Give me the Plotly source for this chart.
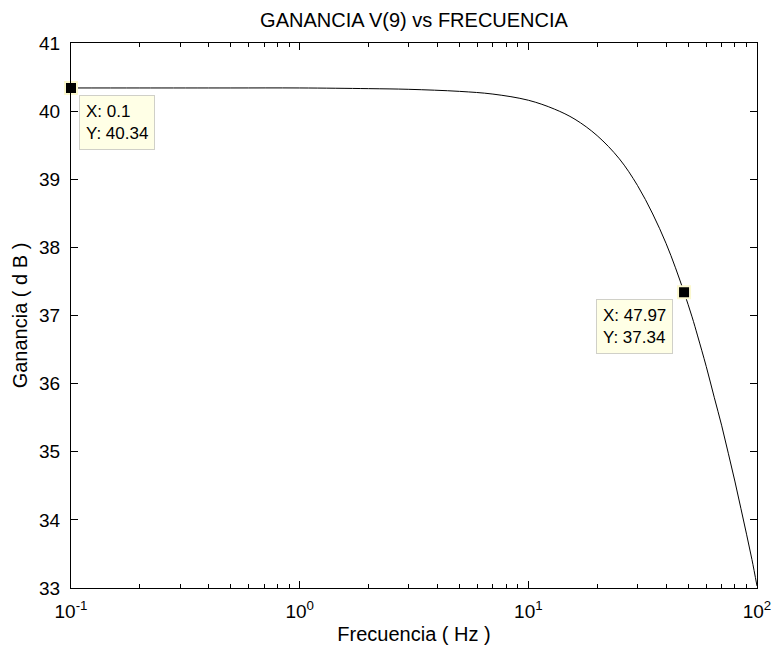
import plotly.graph_objects as go
import math

freq = [0.1, 0.2, 0.5, 1, 2, 3, 5, 7, 10, 13, 16, 20, 25, 30, 35, 40, 44, 47.97,
        52, 55, 60, 65, 70, 75, 80, 85, 90, 95, 100]
gain = [40.34, 40.34, 40.34, 40.34, 40.33, 40.32, 40.29, 40.25, 40.16, 40.03, 39.88,
        39.64, 39.30, 38.91, 38.49, 38.06, 37.70, 37.34, 36.98, 36.70, 36.25, 35.80,
        35.39, 34.97, 34.57, 34.17, 33.79, 33.42, 33.03]

tip_x = [0.1, 47.97]
tip_y = [40.34, 37.34]

xtick_vals = [0.1, 1, 10, 100]
xtick_text = ["10<sup>-1</sup>", "10<sup>0</sup>", "10<sup>1</sup>", "10<sup>2</sup>"]
xminor_vals = [m * d for d in (0.1, 1, 10) for m in range(2, 10)]
ytick_vals = [33, 34, 35, 36, 37, 38, 39, 40, 41]

font = "Liberation Sans, Arial, Helvetica, sans-serif"

fig = go.Figure()
fig.add_trace(go.Scatter(x=freq, y=gain, mode="lines", line=dict(color="black", width=1, shape="spline"),
                         showlegend=False, hoverinfo="skip"))
fig.add_trace(go.Scatter(x=tip_x, y=tip_y, mode="markers",
                         marker=dict(symbol="square", size=12, color="black",
                                     line=dict(color="#fbf8cf", width=2)),
                         showlegend=False, cliponaxis=False))

anns = [
    dict(xanchor="left", yanchor="top", xshift=8, yshift=-7),
    dict(xanchor="right", yanchor="top", xshift=-11, yshift=-7),
]
for xv, yv, a in zip(tip_x, tip_y, anns):
    fig.add_annotation(x=math.log10(xv), y=yv, xref="x", yref="y", showarrow=False,
                       text=f"X: {xv:g}<br>Y: {yv:g}", align="left",
                       font=dict(family=font, size=17, color="black"),
                       bgcolor="#ffffe6", bordercolor="#d0d0c8", borderwidth=1, borderpad=6,
                       **a)

axis_common = dict(showline=True, linecolor="black", linewidth=1, mirror="ticks",
                   ticks="inside", tickcolor="black", ticklen=7, showgrid=False, zeroline=False,
                   tickfont=dict(family=font, size=19, color="black"))

fig.update_xaxes(type="log", range=[-1, 2], tickvals=xtick_vals, ticktext=xtick_text,
                 minor=dict(ticks="inside", ticklen=4, tickcolor="black", showgrid=False,
                            tickmode="array", tickvals=xminor_vals),
                 ticklabelstandoff=6,
                 title=dict(text="Frecuencia ( Hz )", font=dict(family=font, size=20, color="black"), standoff=6),
                 **axis_common)
fig.update_yaxes(range=[33, 41], tickvals=ytick_vals, ticklabelstandoff=6,
                 title=dict(text="Ganancia ( d B )", font=dict(family=font, size=20, color="black"), standoff=6),
                 **axis_common)

fig.update_layout(
    width=783, height=654,
    margin=dict(l=71, r=17, t=43, b=66),
    paper_bgcolor="white", plot_bgcolor="white",
    title=dict(text="GANANCIA V(9) vs FRECUENCIA", x=0.5, xanchor="center", xref="paper",
               y=1 - 20/654, yanchor="middle", font=dict(family=font, size=20, color="black")),
)

fig.write_html("out.html")
